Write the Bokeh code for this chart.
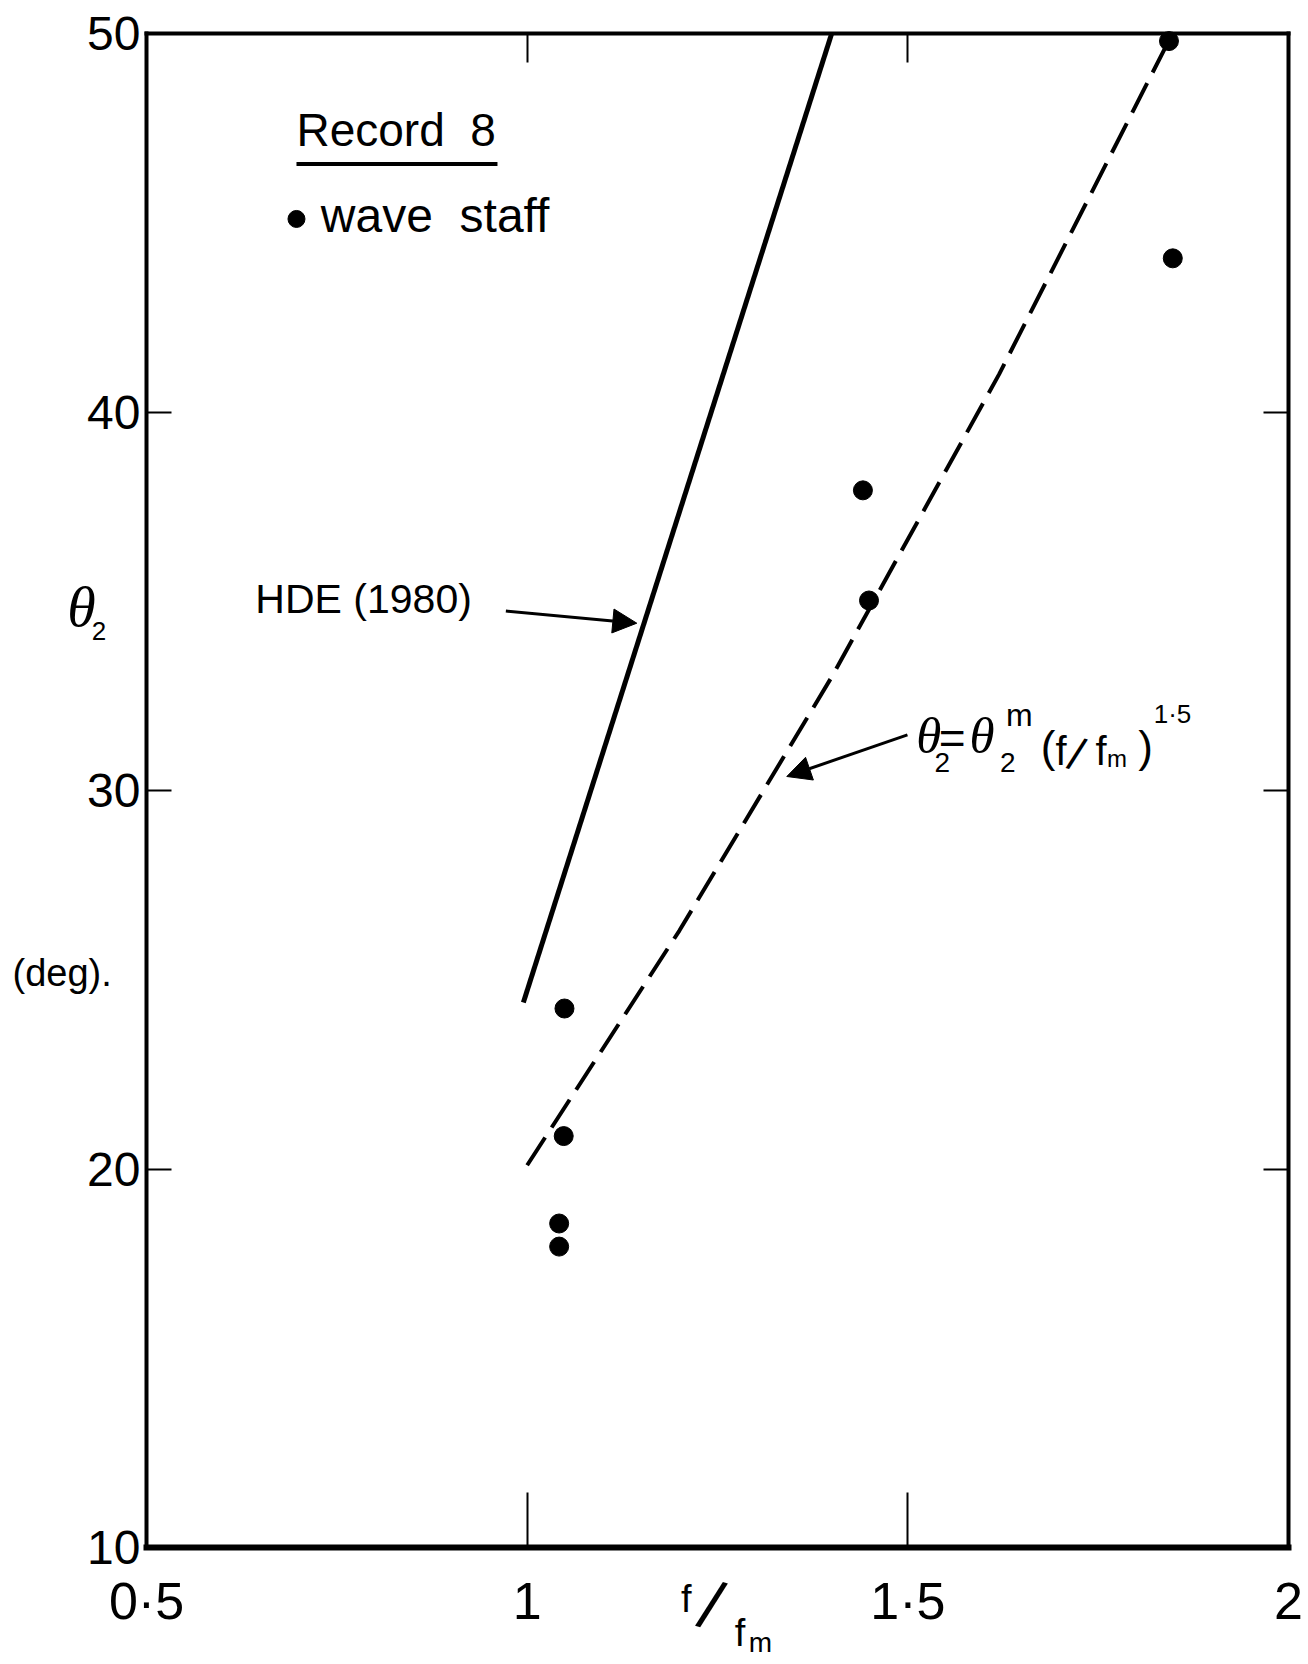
from bokeh.plotting import figure
from bokeh.models import Label, Arrow, NormalHead, LinearAxis, FixedTicker
from bokeh.embed import file_html
from bokeh.resources import INLINE

# Record 8, wave staff estimates of theta_2 against f/f_m
f_ratio = [1.843, 1.848, 1.441, 1.449, 1.049, 1.048, 1.042, 1.042]
theta2 = [49.8, 44.06, 37.93, 35.02, 24.24, 20.87, 18.56, 17.95]

# HDE (1980) relation (solid line)
hde_f = [0.995, 1.40]
hde_theta = [24.4, 50.0]

# theta_2 = theta_2^m (f/f_m)^1.5 curve (dashed line)
fit_f = [1.00, 1.20, 1.40, 1.62, 1.84]
fit_theta = [20.1, 26.3, 33.0, 41.0, 49.7]

x_ticks = [0.5, 1, 1.5, 2]
x_tick_labels = ["0·5", "1", "1·5", "2"]
y_ticks = [10, 20, 30, 40, 50]

X_LO, X_HI = 0.5, 2.0
Y_LO, Y_HI = 10, 50

SANS = "Liberation Sans"
SERIF = "Liberation Serif"

W, H = 1308, 1664
BOX_L, BOX_R, BOX_T, BOX_B = 146, 1288, 33, 1547   # box edges on the canvas

# the frame fills the whole canvas; the boxed plot area sits inside it,
# so titles outside the box are still drawn
px_x = (BOX_R - BOX_L) / (X_HI - X_LO)
px_y = (BOX_B - BOX_T) / (Y_HI - Y_LO)
x_range = (X_LO - BOX_L / px_x, X_HI + (W - BOX_R) / px_x)
y_range = (Y_LO - (H - BOX_B) / px_y, Y_HI + BOX_T / px_y)

p = figure(width=W, height=H, x_range=x_range, y_range=y_range,
           output_backend="svg", toolbar_location=None,
           x_axis_location=None, y_axis_location=None,
           min_border=0, min_border_left=0, min_border_right=0,
           min_border_top=0, min_border_bottom=0)
p.grid.visible = False
p.outline_line_color = None
p.background_fill_color = "white"
p.border_fill_color = "white"


def edge_axis(place, loc, bounds, ticks, tick_in, line_width, labels=True,
              font_size="48px", standoff=10, overrides=None):
    ax = LinearAxis(ticker=FixedTicker(ticks=ticks), fixed_location=loc, bounds=bounds,
                    major_tick_in=tick_in, major_tick_out=0, major_tick_line_width=2,
                    minor_tick_line_color=None, axis_line_width=line_width,
                    axis_line_cap="square", axis_line_color="black",
                    major_tick_line_color="black",
                    major_label_text_font=SANS, major_label_text_font_size=font_size,
                    major_label_standoff=standoff,
                    major_label_text_color="black" if labels else None)
    if overrides:
        ax.major_label_overrides = overrides
    p.add_layout(ax, place)
    return ax


edge_axis("below", Y_LO, (X_LO, X_HI), x_ticks, 55, 6, font_size="52px", standoff=24,
          overrides={float(t): s for t, s in zip(x_ticks, x_tick_labels)})
edge_axis("left", X_LO, (Y_LO, Y_HI), y_ticks, 25, 4, font_size="48px", standoff=6)
edge_axis("right", X_HI, (Y_LO, Y_HI), [20, 30, 40], 25, 4, labels=False, font_size="10px")
edge_axis("above", Y_HI, (X_LO, X_HI), [1, 1.5], 29, 4, labels=False, font_size="10px")

# curves and observations
p.line(hde_f, hde_theta, line_color="black", line_width=5)
p.line(fit_f, fit_theta, line_color="black", line_width=4, line_dash="33 12")
p.scatter(f_ratio, theta2, size=19, color="black")

# Label boxes sit a little below the requested baseline; lift them by a
# fraction of the font size so the glyph baselines land on y
BASELINE_LIFT = {"alphabetic": 0.34, "middle": 0.16}


def label(x, y, text, size, font=SANS, style="normal", align="left",
          baseline="alphabetic", angle=0):
    px = float(size.rstrip("px"))
    y = y + BASELINE_LIFT.get(baseline, 0) * px / px_y
    p.add_layout(Label(x=x, y=y, text=text, text_font=font, text_font_size=size,
                       text_font_style=style, text_align=align,
                       text_baseline=baseline, text_color="black", angle=angle))


# legend block
label(0.697, 47.05, "Record\u00a0 8", "46px")
p.line([0.697, 0.961], [46.55, 46.55], line_color="black", line_width=4)
p.scatter([0.697], [45.1], size=17, color="black")
label(0.729, 44.75, "wave\u00a0 staff", "48px")

# HDE annotation
label(0.643, 34.7, "HDE (1980)", "41px")
p.add_layout(Arrow(end=NormalHead(size=24, fill_color="black", line_color="black"),
                   x_start=0.972, y_start=34.74, x_end=1.144, y_end=34.42,
                   line_width=3, line_color="black"))

# formula annotation
label(1.511, 30.97, "θ", "51px", font=SERIF, style="italic")
label(1.535, 30.50, "2", "28px")
label(1.5405, 30.97, "=", "46px")
label(1.581, 30.97, "θ", "51px", font=SERIF, style="italic")
label(1.621, 30.50, "2", "28px")
label(1.629, 31.72, "m", "32px")
label(1.6745, 30.77, "(", "44px")
label(1.694, 30.69, "f", "40px")
label(1.7135, 30.60, "/", "46px", angle=-0.3)
label(1.7465, 30.69, "f", "40px")
label(1.7615, 30.63, "m", "24px")
label(1.8025, 30.77, ")", "44px")
label(1.823, 31.80, "1·5", "26px")
p.add_layout(Arrow(end=NormalHead(size=24, fill_color="black", line_color="black"),
                   x_start=1.4995, y_start=31.47, x_end=1.341, y_end=30.37,
                   line_width=3, line_color="black"))

# axis titles
label(0.396, 34.35, "θ", "58px", font=SERIF, style="italic")
label(0.428, 33.98, "2", "26px")
label(0.324, 24.85, "(deg).", "38px")
label(1.202, 8.3, "f", "38px")
label(1.242, 8.2, "/", "68px", align="center", baseline="middle", angle=-0.3)
label(1.2726, 7.4, "f", "38px")
label(1.291, 7.25, "m", "28px")

open("out.html", "w").write(file_html(p, INLINE))
